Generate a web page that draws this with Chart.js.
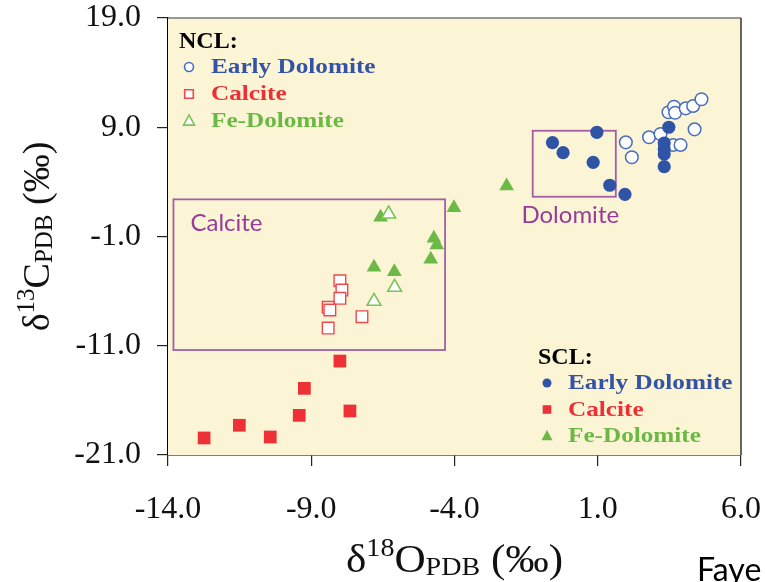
<!DOCTYPE html>
<html><head><meta charset="utf-8">
<script src="https://cdn.jsdelivr.net/npm/chart.js@4/dist/chart.umd.min.js"></script>
<style>
html,body{margin:0;padding:0;background:#fff;overflow:hidden;width:765px;height:582px;}
#wrap{position:relative;width:765px;height:582px;overflow:hidden;}
canvas{position:absolute;left:0;top:0;}
#faye{position:absolute;left:697px;top:550px;font-family:Lato,"Open Sans",sans-serif;font-size:32px;line-height:1.2;color:#000;white-space:nowrap;}
</style></head><body>
<div id="wrap"><canvas id="c" width="765" height="582"></canvas><div id="faye">Faye</div></div>
<script>
// ---- data (δ18O, δ13C) ----
const xTicks = [-14, -9, -4, 1, 6];
const yTicks = [-21, -11, -1, 9, 19];
const groupNames = ['NCL:', 'SCL:'];
const seriesNames = ['Early Dolomite', 'Calcite', 'Fe-Dolomite'];

const nclEarlyDolomite = [[1.98,7.62],[2.19,6.25],[2.79,8.08],[3.19,8.38],[3.47,10.37],[3.66,10.88],[3.70,10.33],[4.07,10.73],[4.33,10.95],[4.62,11.56],[4.38,8.81],[3.63,7.38],[3.89,7.38]];
const nclCalcite = [[-8.0,-5.05],[-7.93,-5.90],[-8.0,-6.66],[-8.41,-7.48],[-8.35,-7.73],[-7.23,-8.34],[-8.41,-9.38]];
const nclFeDolomite = [[-6.30,1.06],[-6.09,-5.65],[-6.81,-6.93]];
const sclEarlyDolomite = [[-0.58,7.59],[-0.21,6.67],[0.97,8.54],[0.84,5.79],[1.42,3.69],[1.95,2.86],[3.48,9.0],[3.32,7.56],[3.32,7.01],[3.32,6.55],[3.32,5.39]];
const sclCalcite = [[-8.0,-12.40],[-9.24,-14.90],[-9.42,-17.37],[-7.65,-16.97],[-11.51,-18.28],[-10.43,-19.35],[-12.74,-19.44]];
const sclFeDolomite = [[-6.58,0.76],[-4.02,1.64],[-4.72,-1.16],[-4.62,-1.78],[-4.83,-3.09],[-6.81,-3.82],[-6.10,-4.22],[-2.18,3.62]];

// field boxes: [xMin, xMax, yMin, yMax]
const calciteBox = [-13.81, -4.33, -11.39, 2.40];
const dolomiteBox = [-1.27, 1.63, 2.64, 8.68];
const boxLabels = ['Calcite', 'Dolomite'];

// ---- styles ----
const BLUE = '#2F54A5', RED = '#EE3137', GREEN = '#6DB947';
const BLUE_O = '#4A6DBD', RED_O = '#F0474C', GREEN_O = '#7CC35A';
const PURPLE = '#A45EA6', PURPLE_T = '#973C99';
const PLOT_BG = '#FBF5D6';

const toPts = a => a.map(p => ({x: p[0], y: p[1]}));

const datasets = [
  {label: seriesNames[2], group: 0, data: toPts(nclFeDolomite), pointStyle: 'triangle', pointRadius: 8, borderWidth: 1.6, borderColor: GREEN_O, backgroundColor: '#fff'},
  {label: seriesNames[0], group: 1, data: toPts(sclEarlyDolomite), pointStyle: 'circle', pointRadius: 6.6, borderWidth: 0, borderColor: BLUE, backgroundColor: BLUE},
  {label: seriesNames[1], group: 0, data: toPts(nclCalcite), pointStyle: 'rect', pointRadius: 8.2, borderWidth: 1.4, borderColor: RED_O, backgroundColor: '#fff'},
  {label: seriesNames[1], group: 1, data: toPts(sclCalcite), pointStyle: 'rect', pointRadius: 9, borderWidth: 0, borderColor: RED, backgroundColor: RED},
  {label: seriesNames[0], group: 0, data: toPts(nclEarlyDolomite), pointStyle: 'circle', pointRadius: 6.3, borderWidth: 1.5, borderColor: BLUE_O, backgroundColor: '#fff'},
  {label: seriesNames[2], group: 1, data: toPts(sclFeDolomite), pointStyle: 'triangle', pointRadius: 8.5, borderWidth: 0, borderColor: GREEN, backgroundColor: GREEN},
];
datasets.forEach(d => { d.pointHoverRadius = d.pointRadius; d.showLine = false; });

const legendTextColor = [ '#3553A6', '#EE2F34', '#6BB944' ];

function marker(ctx, style, x, y, r, fill, stroke, lw) {
  ctx.save();
  ctx.beginPath();
  if (style === 'circle') ctx.arc(x, y, r, 0, Math.PI * 2);
  else if (style === 'rect') ctx.rect(x - r, y - r, 2 * r, 2 * r);
  else { ctx.moveTo(x, y - r * 1.1); ctx.lineTo(x + r, y + r * 0.75); ctx.lineTo(x - r, y + r * 0.75); ctx.closePath(); }
  ctx.fillStyle = fill; ctx.fill();
  if (lw > 0) { ctx.lineWidth = lw; ctx.strokeStyle = stroke; ctx.stroke(); }
  ctx.restore();
}

function richText(ctx, segs, cx, baseY, sx) {
  sx = sx || 1;
  let total = 0;
  segs.forEach(s => { ctx.font = s.size + 'px "Liberation Serif", "Times New Roman", serif'; s.w = ctx.measureText(s.t).width; total += s.w; });
  ctx.save();
  ctx.translate(cx, baseY);
  ctx.scale(sx, 1);
  let x = -total / 2;
  ctx.textAlign = 'left'; ctx.textBaseline = 'alphabetic'; ctx.fillStyle = '#111';
  segs.forEach(s => { ctx.font = s.size + 'px "Liberation Serif", "Times New Roman", serif'; ctx.fillText(s.t, x, (s.dy || 0)); x += s.w; });
  ctx.restore();
}

const decor = {
  id: 'decor',
  beforeDatasetsDraw(chart) {
    const {ctx, chartArea: a, scales: {x, y}} = chart;
    ctx.save();
    ctx.fillStyle = PLOT_BG;
    ctx.fillRect(a.left, a.top, a.right - a.left, a.bottom - a.top);
    // field boxes
    [calciteBox, dolomiteBox].forEach(b => {
      const l = x.getPixelForValue(b[0]), r = x.getPixelForValue(b[1]);
      const t = y.getPixelForValue(b[3]), bt = y.getPixelForValue(b[2]);
      ctx.strokeStyle = PURPLE; ctx.lineWidth = 1.8;
      ctx.strokeRect(l, t, r - l, bt - t);
    });
    ctx.fillStyle = PURPLE_T;
    ctx.font = '24px Lato, "Open Sans", sans-serif';
    ctx.textBaseline = 'alphabetic';
    {
      const l = x.getPixelForValue(calciteBox[0]), t = y.getPixelForValue(calciteBox[3]);
      ctx.textAlign = 'left';
      ctx.fillText(boxLabels[0], l + 17, t + 32);
    }
    {
      const l = x.getPixelForValue(dolomiteBox[0]), r = x.getPixelForValue(dolomiteBox[1]);
      const bt = y.getPixelForValue(dolomiteBox[2]);
      ctx.textAlign = 'center';
      ctx.fillText(boxLabels[1], (l + r) / 2 - 4, bt + 26);
    }
    ctx.restore();
  },
  afterDraw(chart) {
    const {ctx, chartArea: a} = chart;
    ctx.save();
    // top & right frame
    ctx.strokeStyle = '#777'; ctx.lineWidth = 1.5;
    ctx.beginPath(); ctx.moveTo(a.left, a.top); ctx.lineTo(a.right, a.top); ctx.stroke();
    ctx.strokeStyle = '#333';
    ctx.beginPath(); ctx.moveTo(a.right, a.top); ctx.lineTo(a.right, a.bottom); ctx.stroke();

    // legends
    const legendPos = [
      {hx: 179, hy: 48, mx: 189, tx: 211, rows: [67, 94, 121]},
      {hx: 538, hy: 364, mx: 547, tx: 568, rows: [383, 409.5, 436]},
    ];
    const seriesIdx = {'Early Dolomite': 0, 'Calcite': 1, 'Fe-Dolomite': 2};
    legendPos.forEach((p, g) => {
      ctx.fillStyle = '#000';
      ctx.font = 'bold 24px "Liberation Serif", "Times New Roman", serif';
      ctx.textAlign = 'left'; ctx.textBaseline = 'alphabetic';
      ctx.fillText(groupNames[g], p.hx, p.hy);
      chart.data.datasets.filter(d => d.group === g).forEach(d => {
        const i = seriesIdx[d.label];
        const yy = p.rows[i];
        const r = d.pointStyle === 'circle' ? 4.5 : (d.pointStyle === 'rect' ? 4.3 : 5.5);
        marker(ctx, d.pointStyle, p.mx, yy, r, d.backgroundColor, d.borderColor, d.borderWidth ? 1.6 : 0);
        ctx.save();
        ctx.translate(p.tx, yy + 6);
        ctx.scale(1.2, 1);
        ctx.fillStyle = legendTextColor[i];
        ctx.font = 'bold 21px "Liberation Serif", "Times New Roman", serif';
        ctx.fillText(d.label, 0, 0);
        ctx.restore();
      });
    });

    // axis titles
    const cx = (a.left + a.right) / 2;
    richText(ctx, [{t: 'δ', size: 40}, {t: '18', size: 26, dy: -16}, {t: 'O', size: 40}, {t: 'PDB', size: 26, dy: 3}, {t: ' (‰)', size: 40}], cx, 572, 1.08);
    ctx.save();
    ctx.translate(49, (a.top + a.bottom) / 2);
    ctx.rotate(-Math.PI / 2);
    richText(ctx, [{t: 'δ', size: 38}, {t: '13', size: 25, dy: -15}, {t: 'C', size: 38}, {t: 'PDB', size: 25, dy: 3}, {t: ' (‰)', size: 38}], 0, 0, 1);
    ctx.restore();
    ctx.restore();
  }
};

const tickFont = {family: '"Liberation Serif", "Times New Roman", serif', size: 32};
new Chart(document.getElementById('c'), {
  type: 'scatter',
  data: {datasets},
  options: {
    responsive: false,
    animation: false,
    events: [],
    layout: {padding: {top: 18, right: 24, left: 0, bottom: 0}},
    plugins: {legend: {display: false}, tooltip: {enabled: false}},
    scales: {
      x: {
        type: 'linear', min: xTicks[0], max: xTicks[xTicks.length - 1],
        afterBuildTicks: s => { s.ticks = xTicks.map(v => ({value: v})); },
        afterFit: s => { s.height = 127; s.paddingLeft = 0; s.paddingRight = 0; },
        ticks: {callback: v => Number(v).toFixed(1), font: tickFont, color: '#111', padding: 24, maxRotation: 0, autoSkip: false},
        grid: {drawOnChartArea: false, drawTicks: true, tickLength: 11, color: '#222', lineWidth: 1.2},
        border: {color: '#000', width: 1.5}
      },
      y: {
        type: 'linear', min: yTicks[0], max: yTicks[yTicks.length - 1],
        afterBuildTicks: s => { s.ticks = yTicks.map(v => ({value: v})); },
        afterFit: s => { s.width = 168; s.paddingTop = 0; s.paddingBottom = 0; },
        ticks: {callback: v => Number(v).toFixed(1), font: tickFont, color: '#111', padding: 16, autoSkip: false},
        grid: {drawOnChartArea: false, drawTicks: true, tickLength: 11, color: '#222', lineWidth: 1.2},
        border: {color: '#000', width: 1.5}
      }
    }
  },
  plugins: [decor]
});
</script>
</body></html>
